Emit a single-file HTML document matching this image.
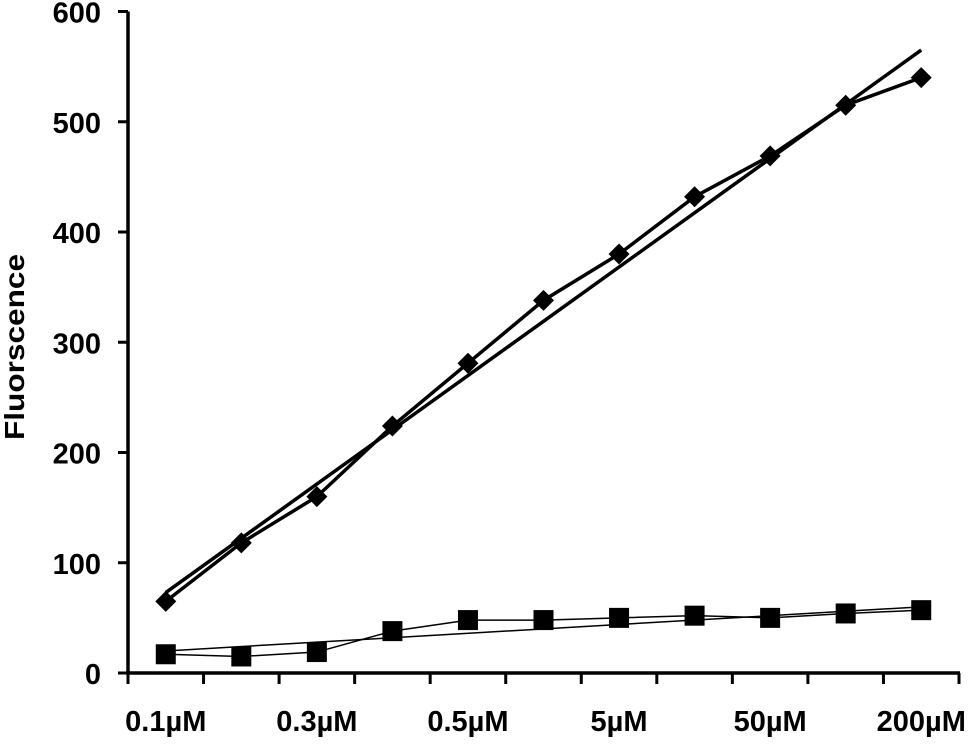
<!DOCTYPE html>
<html><head><meta charset="utf-8"><style>
body{margin:0;background:#fff}
text{font-family:"Liberation Sans",Arial,sans-serif;font-weight:bold;fill:#000}
</style></head><body>
<svg id="chart" width="970" height="741" viewBox="0 0 970 741" xmlns="http://www.w3.org/2000/svg"></svg>
<script>
const categories=["0.1µM","0.2µM","0.3µM","0.4µM","0.5µM","1µM","5µM","10µM","50µM","100µM","200µM"];
const shownLabels=["0.1µM","","0.3µM","","0.5µM","","5µM","","50µM","","200µM"];
const diamondValues=[65,118,160,224,281,338,380,432,469,515,540];
const squareValues=[17,15,19,38,48,48,50,52,50,54,57];
const diamondTrend=[73,565];
const squareTrend=[20,60];
const yTicks=[0,100,200,300,400,500,600];

const svg=document.getElementById('chart');
const NS="http://www.w3.org/2000/svg";
const X0=128,X1=959,Y0=673,Y600=11.5;
const bw=(X1-X0)/categories.length;
const xs=i=>X0+bw*(i+0.5);
const ys=v=>Y0-(Y0-Y600)*v/600;
function mk(tag,attrs,parent){const e=document.createElementNS(NS,tag);for(const k in attrs)e.setAttribute(k,attrs[k]);(parent||svg).appendChild(e);return e;}

let ax=mk('line',{x1:X0,y1:Y600,x2:X0,y2:Y0+1,stroke:'#000','stroke-width':3.5});


ax=mk('line',{x1:X0-2,y1:Y0,x2:X1+1,y2:Y0,stroke:'#000','stroke-width':3.5});


yTicks.forEach(v=>{
  const t=mk('line',{x1:X0-10,y1:ys(v),x2:X0,y2:ys(v),stroke:'#000','stroke-width':3});
  
  
  const l=mk('text',{x:101,y:ys(v)+11,'text-anchor':'end','font-size':29});
  l.textContent=v;
  
  
});
for(let i=0;i<=categories.length;i++){
  const x=X0+bw*i;
  const t=mk('line',{x1:x,y1:Y0,x2:x,y2:Y0+11,stroke:'#000','stroke-width':3});
  
  
}
shownLabels.forEach((s,i)=>{
  if(!s)return;
  const l=mk('text',{x:xs(i),y:731,'text-anchor':'middle','font-size':29});
  l.textContent=s;
  
  
});
const yt=mk('text',{x:0,y:0,'text-anchor':'middle','font-size':28,textLength:186,lengthAdjust:'spacingAndGlyphs',transform:'translate(24,347) rotate(-90)'});
yt.textContent='Fluorscence';



const n=categories.length-1;
let tl=mk('line',{x1:xs(0),y1:ys(diamondTrend[0]),x2:xs(n),y2:ys(diamondTrend[1]),stroke:'#000','stroke-width':3.5});


tl=mk('line',{x1:xs(0),y1:ys(squareTrend[0]),x2:xs(n),y2:ys(squareTrend[1]),stroke:'#000','stroke-width':1.5});



let p=mk('polyline',{points:diamondValues.map((v,i)=>xs(i)+','+ys(v)).join(' '),fill:'none',stroke:'#000','stroke-width':3.5});


p=mk('polyline',{points:squareValues.map((v,i)=>xs(i)+','+ys(v)).join(' '),fill:'none',stroke:'#000','stroke-width':1.5});



diamondValues.forEach((v,i)=>{
  const x=xs(i),y=ys(v),r=10.5;
  const m=mk('polygon',{points:`${x},${y-r} ${x+r},${y} ${x},${y+r} ${x-r},${y}`,fill:'#000'});
  
  
});
squareValues.forEach((v,i)=>{
  const x=xs(i),y=ys(v),r=10;
  const m=mk('rect',{x:x-r,y:y-r,width:2*r,height:2*r,fill:'#000'});
  
  
});
</script>
</body></html>
